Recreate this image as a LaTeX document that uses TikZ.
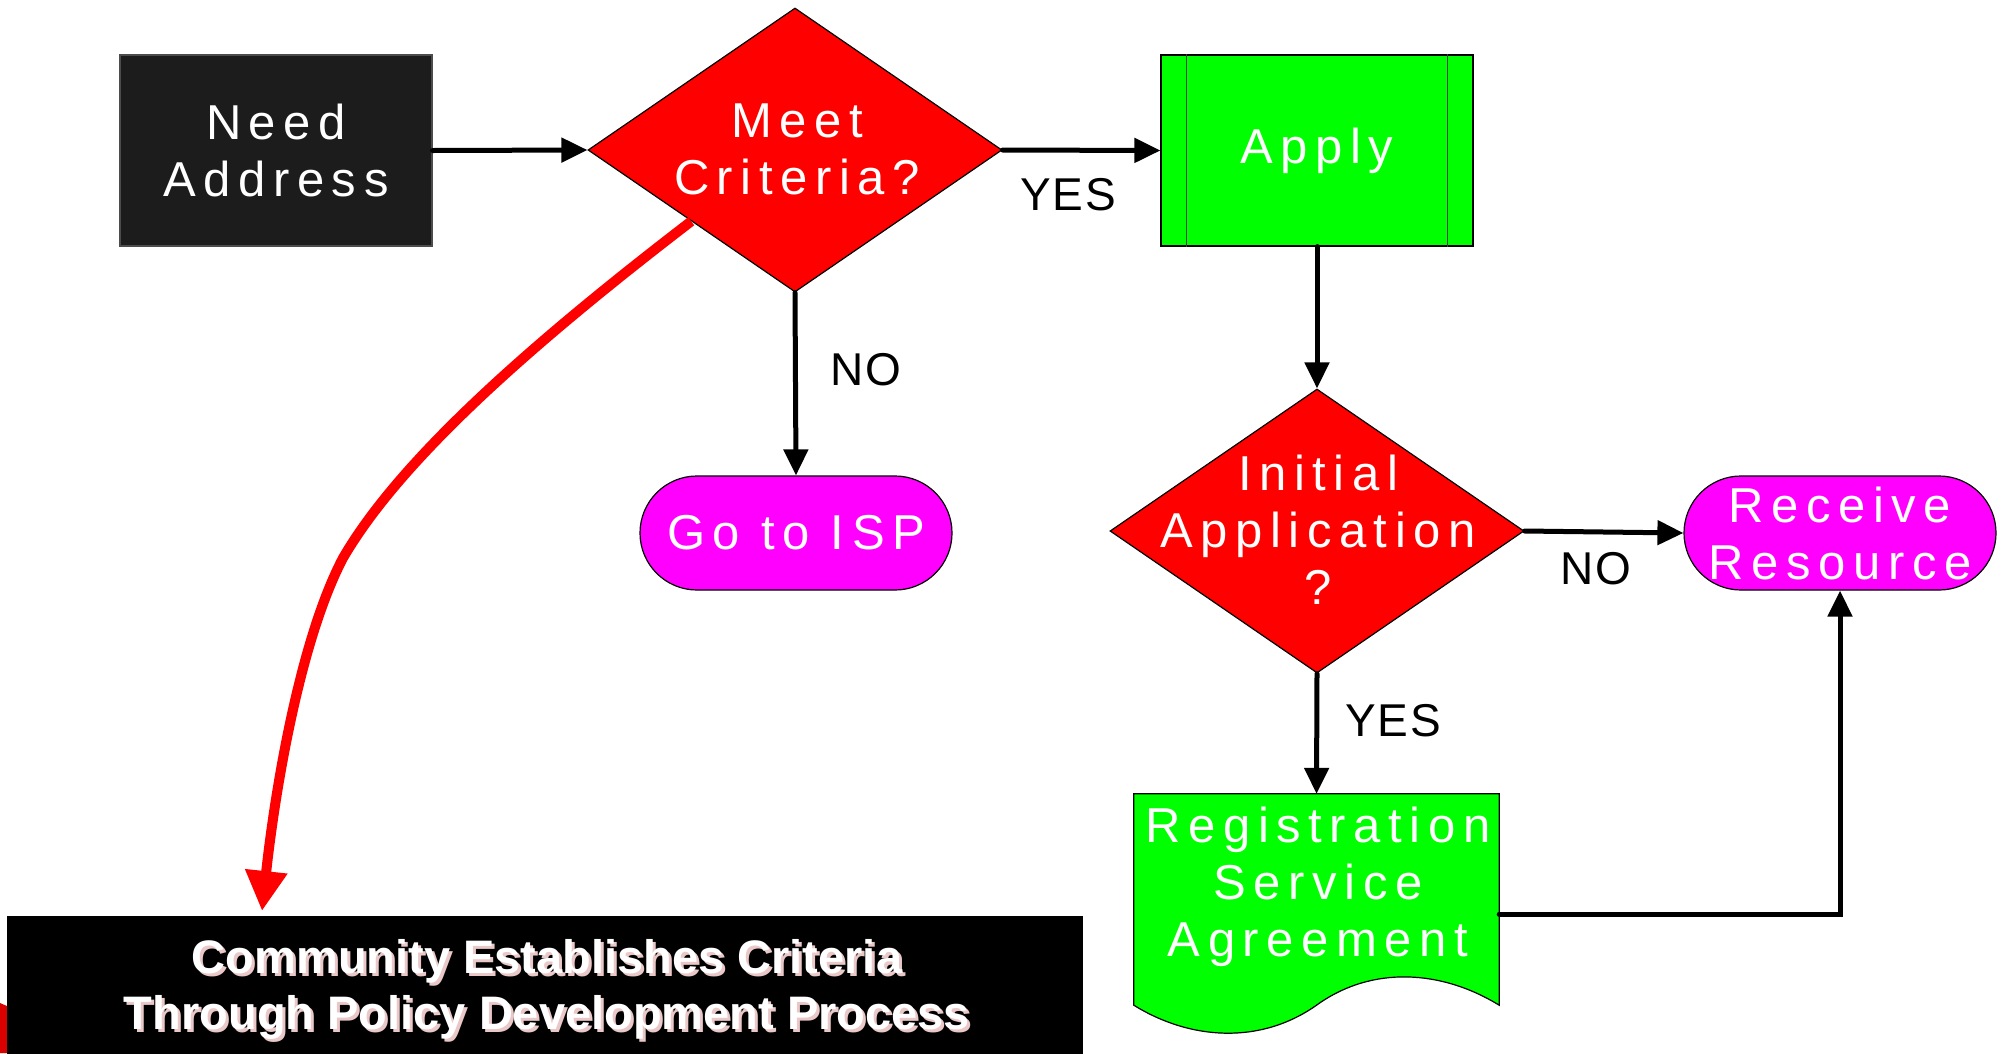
\documentclass[tikz,border=0pt]{standalone}
\usepackage{fontspec}
\setmainfont{Liberation Sans}
\newfontfamily\lblfont[LetterSpace=15.5]{Liberation Sans}
\newfontfamily\ynfont[LetterSpace=4]{Liberation Sans}
\usetikzlibrary{shapes.geometric,arrows.meta}
\definecolor{nearblack}{RGB}{28,28,28}
\definecolor{shadowpink}{RGB}{235,200,200}
\definecolor{pgreen}{RGB}{0,255,0}
\definecolor{pred}{RGB}{255,0,0}
\definecolor{pmag}{RGB}{255,0,255}
\begin{document}
\begin{tikzpicture}[x=1pt,y=-1pt,
  box/.style={draw=black, line width=1.2pt, inner sep=0pt},
  txt/.style={text=white, font=\lblfont\fontsize{49}{57}\selectfont, align=center, inner sep=0pt},
  dia/.style={diamond, draw=black, fill=pred, line width=1.2pt, inner sep=0pt, minimum width=414pt, minimum height=284pt},
  term/.style={box, fill=pmag, rounded corners=57pt, minimum width=312pt, minimum height=114pt},
  flow/.style={line width=5pt, line cap=round, -{Triangle[length=26pt,width=24pt]}},
  yn/.style={font=\ynfont\fontsize{46}{56}\selectfont, inner sep=0pt},
  bigtxt/.style={font=\bfseries\fontsize{47}{56}\selectfont, align=center, inner sep=0pt}
]
\useasboundingbox (0,0) rectangle (2002,1053);
\fill[white] (0,0) rectangle (2002,1053);

% bottom-left red remnant
\fill[pred!85!black] (0,1003) -- (7,1006) -- (7,1053) -- (0,1053) -- cycle;

% nodes
\node[box, fill=nearblack, draw=black!70, minimum width=312pt, minimum height=191pt, txt] (need) at (276,150.5) {Need\\Address};

\node[dia] (meet) at (795,150) {};
\node[txt] (meettext) at (797,149) {Meet\\Criteria?};

\node[box, fill=pgreen, minimum width=312pt, minimum height=191pt, txt] (apply) at (1317,150.5) {Apply};
\draw[line width=1.5pt, draw=black!75] ([xshift=26pt]apply.north west) -- ([xshift=26pt]apply.south west);
\draw[line width=1.5pt, draw=black!75] ([xshift=-26pt]apply.north east) -- ([xshift=-26pt]apply.south east);

\node[dia] (init) at (1317,531) {};
\node[txt] (inittext) at (1318,530) {Initial\\Application\\?};

\node[term, txt] (isp) at (796,533) {Go to ISP};
\node[term, txt] (recv) at (1840,533) {Receive\\Resource};

\node[inner sep=0pt, minimum width=365pt, minimum height=211pt] (reg) at (1316.5,899.5) {};
\draw[fill=pgreen, line width=1.2pt] (reg.north west) -- (reg.north east) -- (reg.south east)
  .. controls (1442,970) and (1372,965) .. (reg.south)
  .. controls (1260,1045) and (1190,1040) .. (reg.south west) -- cycle;
\node[txt] (regtext) at (1318,887) {Registration\\Service\\Agreement};

\node[fill=black, minimum width=1076pt, minimum height=150pt, inner sep=0pt] (bottom) at (545,991) {};
\node[bigtxt, text=shadowpink] (bshadow) at (550,992) {Community Establishes Criteria\\Through Policy Development Process};
\node[bigtxt, text=white] (btext) at (547,989.5) {Community Establishes Criteria\\Through Policy Development Process};

% connectors
\draw[flow] (need.east) -- (meet.west);
\draw[flow] (meet.east) -- (apply.west);
\draw[flow] (meet.south) -- (isp.north);
\draw[flow] (apply.south) -- (init.north);
\draw[flow] (init.east) -- (recv.west);
\draw[flow] (init.south) -- (reg.north);
\draw[flow] ([yshift=-14.5pt]reg.east) -| (recv.south);

% labels
\node[yn] (yes1) at (1068,195) {YES};
\node[yn] (no1) at (866,370) {NO};
\node[yn] (no2) at (1596,569) {NO};
\node[yn] (yes2) at (1393,721) {YES};

% red curved arrow
\coordinate (redend) at (262,911);
\draw[pred, line width=10pt, -{Triangle[length=40pt,width=40pt]}] (meet.south west)
  .. controls (530,345) and (400,460) .. (343,558)
  .. controls (300,640) and (275,790) .. (redend);
\end{tikzpicture}
\end{document}
